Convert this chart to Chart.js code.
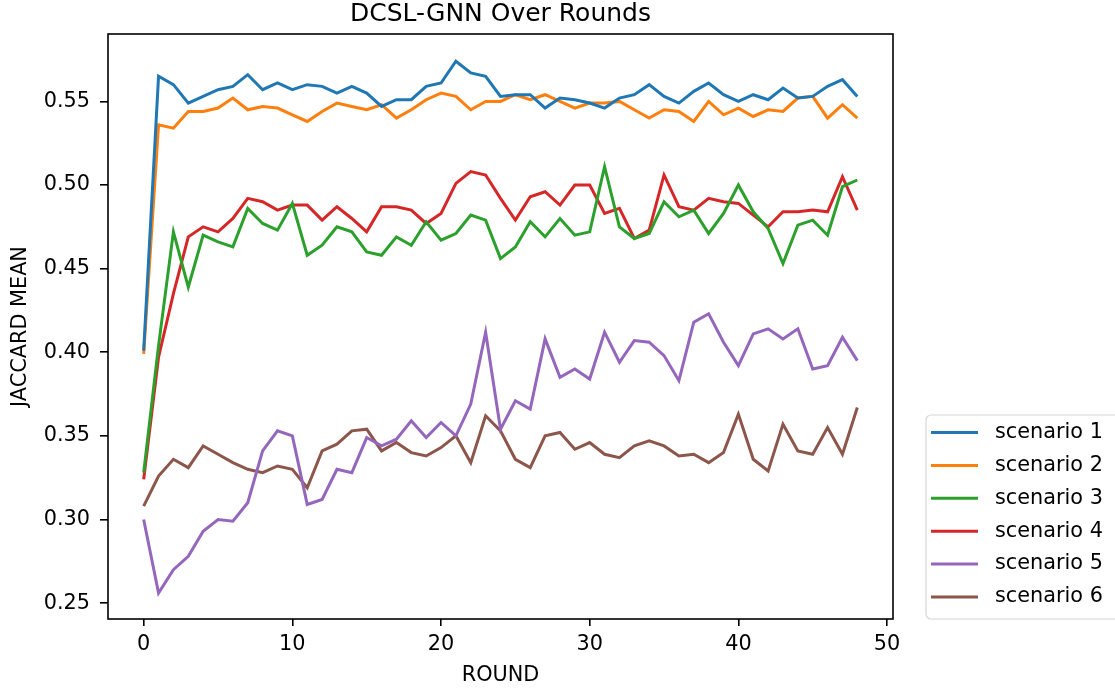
<!DOCTYPE html>
<html>
<head>
<meta charset="utf-8">
<script src="https://cdn.jsdelivr.net/npm/chart.js@4.4.1/dist/chart.umd.min.js"></script>
<style>
  html, body { margin: 0; padding: 0; background: #fff; }
  canvas { display: block; }
</style>
</head>
<body>
<canvas id="statsGraph" width="1115" height="690"></canvas>
<script>
const rounds = [0, 1, 2, 3, 4, 5, 6, 7, 8, 9, 10, 11, 12, 13, 14, 15, 16, 17, 18, 19, 20,
  21, 22, 23, 24, 25, 26, 27, 28, 29, 30, 31, 32, 33, 34, 35, 36, 37, 38, 39, 40,
  41, 42, 43, 44, 45, 46, 47, 48];

const scenario1 = [0.401, 0.565, 0.560, 0.549, 0.553, 0.557, 0.559, 0.566, 0.557, 0.561,
  0.557, 0.560, 0.559, 0.555, 0.559, 0.555, 0.547, 0.551, 0.551, 0.559,
  0.561, 0.574, 0.567, 0.565, 0.553, 0.554, 0.554, 0.546, 0.552, 0.551,
  0.549, 0.546, 0.552, 0.554, 0.560, 0.553, 0.549, 0.556, 0.561, 0.554,
  0.550, 0.554, 0.551, 0.558, 0.552, 0.553, 0.559, 0.563, 0.553];
const scenario2 = [0.399, 0.536, 0.534, 0.544, 0.544, 0.546, 0.552, 0.545, 0.547, 0.546,
  0.542, 0.538, 0.544, 0.549, 0.547, 0.545, 0.548, 0.540, 0.545, 0.551,
  0.555, 0.553, 0.545, 0.550, 0.550, 0.554, 0.551, 0.554, 0.550, 0.546,
  0.549, 0.549, 0.550, 0.545, 0.540, 0.545, 0.544, 0.538, 0.550, 0.542,
  0.546, 0.541, 0.545, 0.544, 0.552, 0.553, 0.540, 0.548, 0.540];
const scenario3 = [0.328, 0.404, 0.472, 0.439, 0.470, 0.466, 0.463, 0.486, 0.477, 0.473,
  0.489, 0.458, 0.464, 0.475, 0.472, 0.460, 0.458, 0.469, 0.464, 0.478,
  0.467, 0.471, 0.482, 0.479, 0.456, 0.463, 0.478, 0.469, 0.480, 0.470,
  0.472, 0.511, 0.475, 0.468, 0.471, 0.490, 0.481, 0.485, 0.471, 0.483,
  0.500, 0.484, 0.474, 0.453, 0.476, 0.479, 0.470, 0.499, 0.503];
const scenario4 = [0.324, 0.397, 0.435, 0.469, 0.475, 0.472, 0.480, 0.492, 0.490, 0.485,
  0.488, 0.488, 0.479, 0.487, 0.480, 0.472, 0.487, 0.487, 0.485, 0.477,
  0.483, 0.501, 0.508, 0.506, 0.492, 0.479, 0.493, 0.496, 0.488, 0.500,
  0.500, 0.483, 0.486, 0.468, 0.473, 0.506, 0.487, 0.485, 0.492, 0.490,
  0.489, 0.482, 0.475, 0.484, 0.484, 0.485, 0.484, 0.505, 0.485];
const scenario5 = [0.300, 0.256, 0.270, 0.278, 0.293, 0.300, 0.299, 0.310, 0.341, 0.353,
  0.350, 0.309, 0.312, 0.330, 0.328, 0.349, 0.344, 0.348, 0.359, 0.349,
  0.358, 0.350, 0.369, 0.412, 0.354, 0.371, 0.366, 0.408, 0.385, 0.390,
  0.384, 0.412, 0.394, 0.407, 0.406, 0.398, 0.383, 0.418, 0.423, 0.406,
  0.392, 0.411, 0.414, 0.408, 0.414, 0.390, 0.392, 0.409, 0.395];
const scenario6 = [0.308, 0.326, 0.336, 0.331, 0.344, 0.339, 0.334, 0.330, 0.328, 0.332,
  0.330, 0.319, 0.341, 0.345, 0.353, 0.354, 0.341, 0.346, 0.340, 0.338,
  0.343, 0.350, 0.334, 0.362, 0.353, 0.336, 0.331, 0.350, 0.352, 0.342,
  0.346, 0.339, 0.337, 0.344, 0.347, 0.344, 0.338, 0.339, 0.334, 0.340,
  0.363, 0.336, 0.329, 0.357, 0.341, 0.339, 0.355, 0.339, 0.367];

const xTicks = [0, 10, 20, 30, 40, 50];
const yTicks = [0.25, 0.30, 0.35, 0.40, 0.45, 0.50, 0.55];

const series = [
  { label: "scenario 1", values: scenario1, color: "#1f77b4" },
  { label: "scenario 2", values: scenario2, color: "#ff7f0e" },
  { label: "scenario 3", values: scenario3, color: "#2ca02c" },
  { label: "scenario 4", values: scenario4, color: "#d62728" },
  { label: "scenario 5", values: scenario5, color: "#9467bd" },
  { label: "scenario 6", values: scenario6, color: "#8c564b" },
];

const FONT = "'DejaVu Sans', sans-serif";

// frame around the plot, like matplotlib spines
const framePlugin = {
  id: "frame",
  afterDraw(chart) {
    const { ctx, chartArea: a } = chart;
    ctx.save();
    ctx.strokeStyle = "#000";
    ctx.lineWidth = 1.6;
    ctx.strokeRect(a.left, a.top, a.right - a.left, a.bottom - a.top);
    ctx.restore();
  },
};

// legend outside the plot on the lower right
const sideLegend = {
  id: "sideLegend",
  afterDraw(chart) {
    const { ctx, chartArea: a } = chart;
    const sets = chart.data.datasets;
    const left = a.right + 33;
    const top = a.bottom - 204;
    const w = 220, h = 204, r = 5;
    ctx.save();
    ctx.beginPath();
    ctx.moveTo(left + r, top);
    ctx.lineTo(left + w, top);
    ctx.lineTo(left + w, top + h);
    ctx.lineTo(left + r, top + h);
    ctx.arcTo(left, top + h, left, top + h - r, r);
    ctx.lineTo(left, top + r);
    ctx.arcTo(left, top, left + r, top, r);
    ctx.closePath();
    ctx.fillStyle = "rgba(255,255,255,0.8)";
    ctx.fill();
    ctx.strokeStyle = "#d6d6d6";
    ctx.lineWidth = 1.2;
    ctx.stroke();

    ctx.font = "20.8px " + FONT;
    ctx.textBaseline = "middle";
    ctx.textAlign = "left";
    sets.forEach((ds, i) => {
      const y = top + 17.5 + i * 32.9;
      ctx.strokeStyle = ds.borderColor;
      ctx.lineWidth = 3;
      ctx.beginPath();
      ctx.moveTo(left + 5, y);
      ctx.lineTo(left + 52, y);
      ctx.stroke();
      ctx.fillStyle = "#000";
      ctx.fillText(ds.label, left + 69, y);
    });
    ctx.restore();
  },
};

const ctx = document.getElementById("statsGraph").getContext("2d");
const myChart = new Chart(ctx, {
  type: "line",
  data: {
    datasets: series.map((s) => ({
      label: s.label,
      data: rounds.map((r, i) => ({ x: r, y: s.values[i] })),
      borderColor: s.color,
      backgroundColor: s.color,
      borderWidth: 3,
      pointRadius: 0,
      tension: 0,
      fill: false,
    })),
  },
  options: {
    responsive: false,
    devicePixelRatio: 1,
    animation: false,
    layout: { padding: { left: 0, right: 222, top: 0, bottom: 0 } },
    plugins: {
      legend: { display: false },
      tooltip: { enabled: false },
      title: {
        display: true,
        text: "DCSL-GNN Over Rounds",
        fullSize: false,
        color: "#000",
        font: { family: FONT, size: 25, weight: "normal", lineHeight: 1 },
        padding: { top: 2, bottom: 7 },
      },
    },
    scales: {
      x: {
        type: "linear",
        min: -2.4,
        max: 50.4,
        afterBuildTicks: (scale) => {
          scale.ticks = xTicks.map((v) => ({ value: v }));
        },
        afterFit: (scale) => {
          scale.height = 71;
        },
        ticks: {
          color: "#000",
          font: { family: FONT, size: 20.8, lineHeight: 1 },
          padding: 8,
          maxRotation: 0,
          autoSkip: false,
          callback: (v) => String(v),
        },
        grid: {
          drawOnChartArea: false,
          drawTicks: true,
          tickLength: 7,
          tickColor: "#000",
          lineWidth: 1.6,
        },
        border: { display: false },
        title: {
          display: true,
          text: "ROUND",
          color: "#000",
          font: { family: FONT, size: 20.8, lineHeight: 1.2 },
          padding: { top: 0, bottom: 2 },
        },
      },
      y: {
        type: "linear",
        min: 0.2405,
        max: 0.5903,
        afterBuildTicks: (scale) => {
          scale.ticks = yTicks.map((v) => ({ value: v }));
        },
        afterFit: (scale) => {
          scale.width = 108;
        },
        ticks: {
          color: "#000",
          font: { family: FONT, size: 20.8 },
          padding: 10,
          autoSkip: false,
          callback: (v) => Number(v).toFixed(2),
        },
        grid: {
          drawOnChartArea: false,
          drawTicks: true,
          tickLength: 8,
          tickColor: "#000",
          lineWidth: 1.6,
        },
        border: { display: false },
        title: {
          display: true,
          text: "JACCARD MEAN",
          color: "#000",
          font: { family: FONT, size: 20.8, lineHeight: 1.2 },
          padding: { top: 8, bottom: 0 },
        },
      },
    },
  },
  plugins: [framePlugin, sideLegend],
});
</script>
</body>
</html>
